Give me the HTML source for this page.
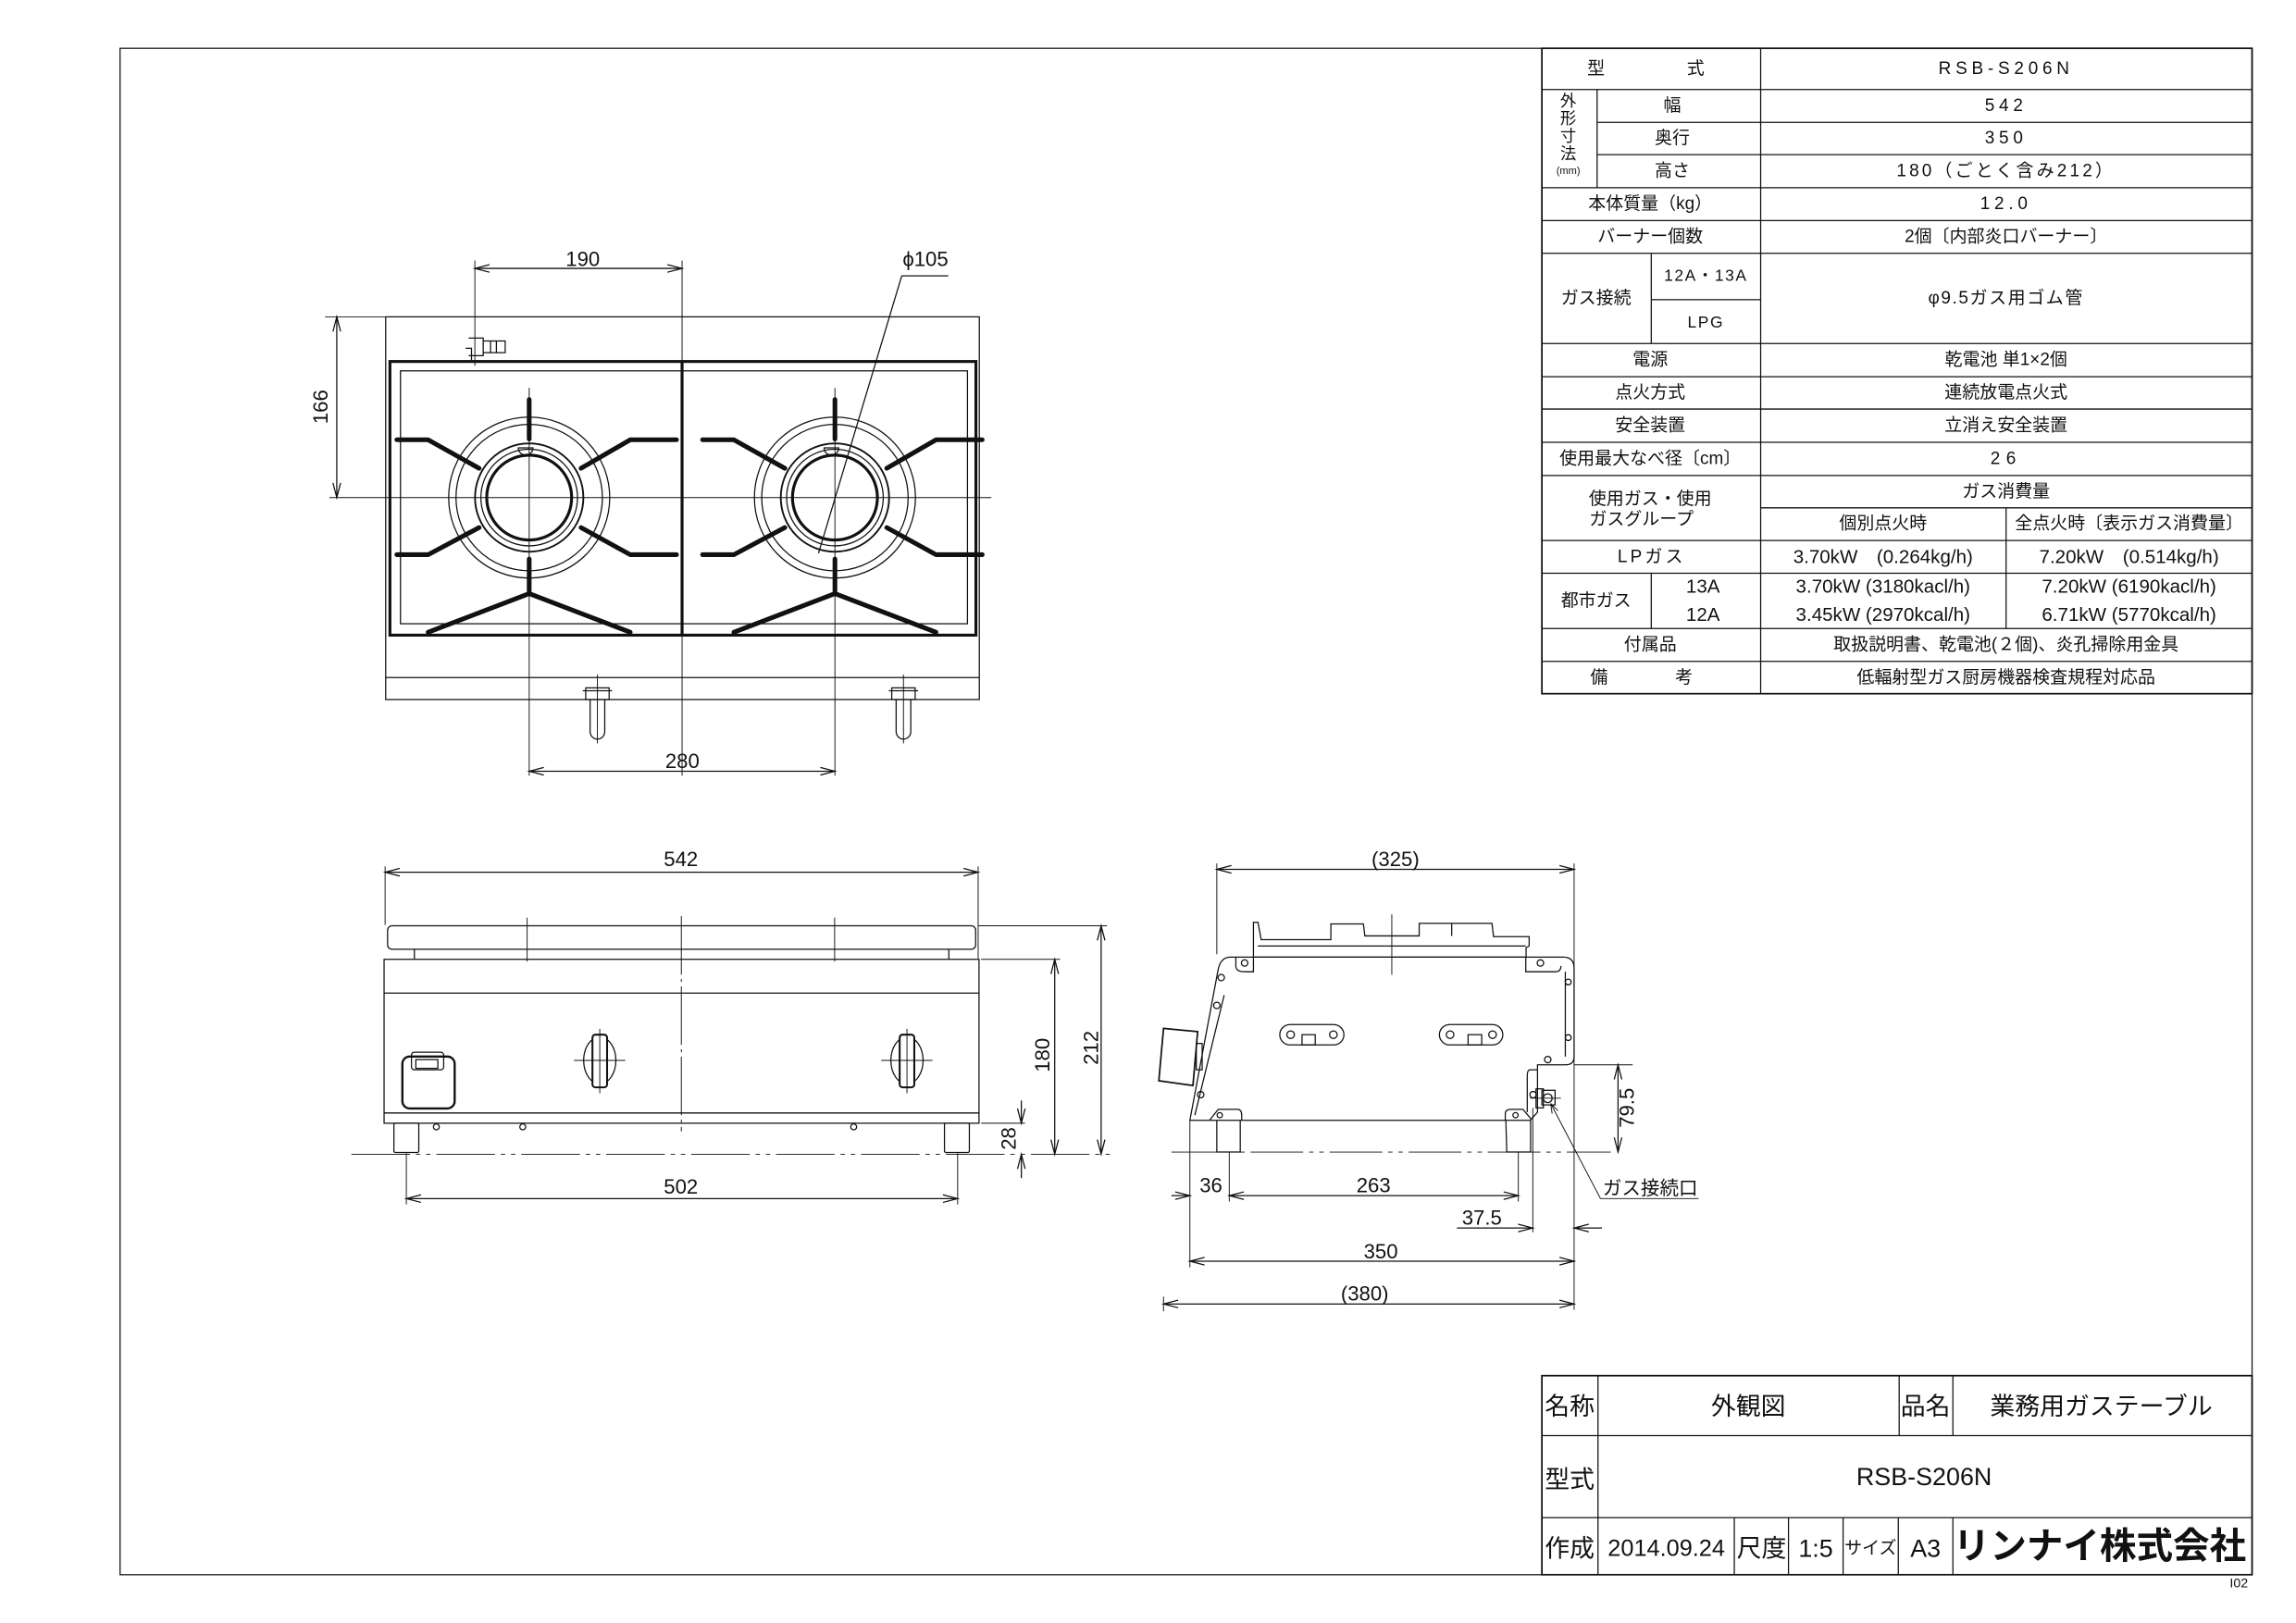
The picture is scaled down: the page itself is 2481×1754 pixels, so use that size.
<!DOCTYPE html>
<html><head><meta charset="utf-8"><style>
html,body{margin:0;padding:0;background:#fff;}
svg{display:block;}
text{font-family:"Liberation Sans","Noto Sans CJK JP",sans-serif;fill:#111;}
</style></head><body>
<svg width="2481" height="1754" viewBox="0 0 1568 1109" preserveAspectRatio="none" xmlns="http://www.w3.org/2000/svg">
<defs>
<marker id="a" markerUnits="userSpaceOnUse" markerWidth="20" markerHeight="10" refX="0" refY="0" viewBox="-12 -5 14 10" orient="auto-start-reverse">
<path d="M-10,-2.6 L0,0 L-10,2.6" fill="none" stroke="#111" stroke-width="0.8"/>
</marker>
</defs>
<rect x="0" y="0" width="1568" height="1109" fill="#fff"/>
<g fill="none" stroke="#111" stroke-width="0.8">
<rect x="82" y="33" width="1456" height="1043"/>

<!-- ===== SPEC TABLE ===== -->
<rect x="1053" y="33" width="485" height="441" stroke-width="1.1"/>
<line x1="1202.4" y1="33" x2="1202.4" y2="474"/>
<line x1="1053" y1="61.2" x2="1538" y2="61.2"/>
<line x1="1090.7" y1="83.6" x2="1538" y2="83.6"/>
<line x1="1090.7" y1="105.7" x2="1538" y2="105.7"/>
<line x1="1090.7" y1="61.2" x2="1090.7" y2="128.3"/>
<line x1="1053" y1="128.3" x2="1538" y2="128.3"/>
<line x1="1053" y1="150.7" x2="1538" y2="150.7"/>
<line x1="1053" y1="173.1" x2="1538" y2="173.1"/>
<line x1="1127.7" y1="173.1" x2="1127.7" y2="234.7"/>
<line x1="1127.7" y1="204.8" x2="1202.4" y2="204.8"/>
<line x1="1053" y1="234.7" x2="1538" y2="234.7"/>
<line x1="1053" y1="257.4" x2="1538" y2="257.4"/>
<line x1="1053" y1="279.5" x2="1538" y2="279.5"/>
<line x1="1053" y1="302.2" x2="1538" y2="302.2"/>
<line x1="1053" y1="324.9" x2="1538" y2="324.9"/>
<line x1="1202.4" y1="347" x2="1538" y2="347"/>
<line x1="1370" y1="347" x2="1370" y2="429.5"/>
<line x1="1053" y1="369.3" x2="1538" y2="369.3"/>
<line x1="1053" y1="391.7" x2="1538" y2="391.7"/>
<line x1="1127.7" y1="391.7" x2="1127.7" y2="429.5"/>
<line x1="1053" y1="429.5" x2="1538" y2="429.5"/>
<line x1="1053" y1="451.9" x2="1538" y2="451.9"/>

<!-- ===== TITLE BLOCK ===== -->
<rect x="1053" y="940" width="485" height="136" stroke-width="1.1"/>
<line x1="1053" y1="981" x2="1538" y2="981"/>
<line x1="1053" y1="1037" x2="1538" y2="1037"/>
<line x1="1091.3" y1="940" x2="1091.3" y2="1076"/>
<line x1="1297" y1="940" x2="1297" y2="981"/>
<line x1="1333.7" y1="940" x2="1333.7" y2="981"/>
<line x1="1184.4" y1="1037" x2="1184.4" y2="1076"/>
<line x1="1221.4" y1="1037" x2="1221.4" y2="1076"/>
<line x1="1258.7" y1="1037" x2="1258.7" y2="1076"/>
<line x1="1296.4" y1="1037" x2="1296.4" y2="1076"/>
<line x1="1333.7" y1="1037" x2="1333.7" y2="1076"/>

<!-- ===== TOP VIEW ===== -->
<rect x="263.4" y="216.5" width="405.4" height="261.5"/>
<line x1="263.4" y1="463" x2="668.8" y2="463"/>
<rect x="266.3" y="247" width="400.2" height="187" stroke-width="2"/>
<rect x="273.5" y="253.4" width="387.2" height="172.8"/>
<line x1="465.8" y1="247" x2="465.8" y2="434" stroke-width="2"/>
<line x1="465.8" y1="178" x2="465.8" y2="530" stroke-width="0.6"/>
<line x1="324.3" y1="178" x2="324.3" y2="250" stroke-width="0.6"/>
<line x1="324.3" y1="183.4" x2="465.8" y2="183.4" marker-start="url(#a)" marker-end="url(#a)"/>
<line x1="225" y1="340" x2="677" y2="340" stroke-width="0.6"/>
<line x1="222" y1="216.5" x2="263" y2="216.5" stroke-width="0.6"/>
<line x1="230" y1="216.5" x2="230" y2="340" marker-start="url(#a)" marker-end="url(#a)"/>
<!-- gas fitting -->
<path d="M320,231 L330,231 L330,243 L320,243 M330,233 L345,233 L345,241 L330,241 M335,233 L335,241 M339,233 L339,241 M318,238 L322,238 L322,247"/>
<!-- burners -->
<g id="burner">
<circle cx="361.4" cy="340" r="55"/>
<circle cx="361.4" cy="340" r="50"/>
<circle cx="361.4" cy="340" r="37" stroke-width="1.2"/>
<circle cx="361.4" cy="340" r="33"/>
<circle cx="361.4" cy="340" r="29" stroke-width="2"/>
<line x1="361.4" y1="265" x2="361.4" y2="530" stroke-width="0.6"/>
<g stroke-width="3.2" stroke-linecap="round" stroke-linejoin="round">
<line x1="361.4" y1="273" x2="361.4" y2="300"/>
<line x1="361.4" y1="382" x2="361.4" y2="404"/>
<polyline points="292.4,432 361.4,405.6 430.4,432"/>
<polyline points="271,300.5 292.4,300.5 327.2,320"/>
<polyline points="271,379 292.4,379 327.2,360.5"/>
<polyline points="462,300.5 430.4,300.5 396.8,320"/>
<polyline points="462,379 430.4,379 396.8,360.5"/>
</g>
<path d="M354,306 a5,5 0 0 0 10,0 z"/>
</g>
<use href="#burner" transform="translate(208.8,0)"/>
<!-- top view knobs -->
<g id="tk"><path d="M400,470 L416,470 L416,478 L400,478 Z M403,478 L403,500 a5,5 0 0 0 10,0 L413,478 M398,472 L418,472"/>
<line x1="408" y1="461" x2="408" y2="508" stroke-width="0.6"/></g>
<use href="#tk" transform="translate(209,0)"/>
<!-- phi105 leader -->
<line x1="647.6" y1="188.5" x2="615.8" y2="188.5"/>
<line x1="615.8" y1="188.5" x2="559" y2="378"/>
<!-- 280 -->
<line x1="361.4" y1="527" x2="570.2" y2="527" marker-start="url(#a)" marker-end="url(#a)"/>

<!-- ===== FRONT VIEW ===== -->
<line x1="263" y1="592" x2="263" y2="632" stroke-width="0.6"/>
<line x1="668" y1="592" x2="668" y2="655" stroke-width="0.6"/>
<line x1="263" y1="596" x2="668" y2="596" marker-start="url(#a)" marker-end="url(#a)"/>
<rect x="264.7" y="632.6" width="401.6" height="16" rx="3"/>
<line x1="283" y1="648.6" x2="283" y2="655.5"/>
<line x1="648" y1="648.6" x2="648" y2="655.5"/>
<rect x="262.3" y="655.5" width="406.3" height="112"/>
<line x1="262.3" y1="678.6" x2="668.6" y2="678.6"/>
<line x1="262.3" y1="760.5" x2="668.6" y2="760.5"/>
<line x1="465.3" y1="626" x2="465.3" y2="773" stroke-width="0.6" stroke-dasharray="40,3,2,3"/>
<line x1="360" y1="627" x2="360" y2="657" stroke-width="0.6"/>
<line x1="570" y1="627" x2="570" y2="657" stroke-width="0.6"/>
<g id="fk">
<ellipse cx="409.6" cy="724.6" rx="11" ry="16"/>
<rect x="404.6" y="707" width="10" height="36" rx="2" stroke-width="1.3" fill="#fff"/>
<line x1="392" y1="724.6" x2="427" y2="724.6" stroke-width="0.6"/>
<line x1="409.6" y1="703" x2="409.6" y2="747" stroke-width="0.6"/>
</g>
<use href="#fk" transform="translate(209.8,0)"/>
<rect x="274.8" y="721.9" width="35.7" height="35.5" rx="5" stroke-width="1.5"/>
<rect x="281" y="719" width="22" height="12" rx="2"/>
<rect x="284" y="724" width="15" height="6"/>
<rect x="269" y="767.5" width="17" height="20" rx="1"/>
<rect x="645" y="767.5" width="17" height="20" rx="1"/>
<circle cx="298" cy="770" r="2"/><circle cx="357" cy="770" r="2"/><circle cx="583" cy="770" r="2"/>
<line x1="240" y1="788.7" x2="760" y2="788.7" stroke-width="0.6" stroke-dasharray="40,4,3,4,3,4"/>
<line x1="277.5" y1="788" x2="277.5" y2="823" stroke-width="0.6"/>
<line x1="654" y1="788" x2="654" y2="823" stroke-width="0.6"/>
<line x1="277.5" y1="819" x2="654" y2="819" marker-start="url(#a)" marker-end="url(#a)"/>
<line x1="668" y1="632.6" x2="756" y2="632.6" stroke-width="0.6"/>
<line x1="670" y1="655.5" x2="724" y2="655.5" stroke-width="0.6"/>
<line x1="670" y1="767.5" x2="700" y2="767.5" stroke-width="0.6"/>
<line x1="720.3" y1="655.5" x2="720.3" y2="788.7" marker-start="url(#a)" marker-end="url(#a)"/>
<line x1="752" y1="632.6" x2="752" y2="788.7" marker-start="url(#a)" marker-end="url(#a)"/>
<line x1="697.5" y1="752" x2="697.5" y2="767.5" marker-end="url(#a)"/>
<line x1="697.5" y1="805" x2="697.5" y2="788.7" marker-end="url(#a)"/>

<!-- ===== SIDE VIEW ===== -->
<line x1="831" y1="590" x2="831" y2="652" stroke-width="0.6"/>
<line x1="1075" y1="590" x2="1075" y2="895" stroke-width="0.6"/>
<line x1="831" y1="594" x2="1075" y2="594" marker-start="url(#a)" marker-end="url(#a)"/>
<polygon points="856,654 856,630.2 859.1,630.2 861.3,642.1 908.9,642.1 908.9,631.3 931.1,631.3 932.1,639.5 969.2,639.5 969.2,630.9 1018.9,630.9 1020,640 1044.3,640 1044.3,646.4 1042.2,647.5 1042.2,654"/>
<line x1="859" y1="646.4" x2="1042" y2="646.4"/>
<line x1="991.4" y1="631" x2="991.4" y2="639.5"/>
<line x1="950.5" y1="624.8" x2="950.5" y2="666" stroke-width="0.6"/>
<path d="M840,654 L1067.6,654 Q1075,654 1075,661.6 L1075,722 Q1075,727.6 1069,727.6 L1050,727.6 L1050,760 L1045,765.5 L812.6,765.5 L832,662 Q834,654 840,654 Z"/>
<path d="M1069,664 L1069,722" />
<path d="M816,762 L836,680 M844,654 L844,660 Q844,664 850,664 L856,664 L856,654 M1042,654 L1042,664 L1062,664 Q1066,664 1066,660"/>
<path d="M1050,731 L1045,731 Q1043,731 1043,735 L1043,760"/>
<circle cx="850" cy="658" r="2.2"/><circle cx="1052" cy="658" r="2.2"/>
<circle cx="1071" cy="671" r="2"/><circle cx="1071" cy="709" r="2"/>
<circle cx="834" cy="668" r="2.2"/><circle cx="831" cy="687" r="2.2"/><circle cx="820" cy="748" r="2.2"/>
<circle cx="1057" cy="724" r="2.2"/><circle cx="1047" cy="748" r="2.2"/>
<rect x="874" y="700.1" width="43.8" height="13.9" rx="7"/>
<circle cx="881.4" cy="707" r="2.6"/><circle cx="910.6" cy="707" r="2.6"/>
<rect x="889.2" y="707" width="9" height="7"/>
<rect x="983" y="700.1" width="43.3" height="13.9" rx="7"/>
<circle cx="990.3" cy="707" r="2.6"/><circle cx="1019.3" cy="707" r="2.6"/>
<rect x="1002.6" y="707" width="9.3" height="7"/>
<polygon points="794.6,702.7 817.9,704.9 814.7,741.7 791.4,738.5" stroke-width="1.1"/>
<rect x="817" y="713" width="4" height="18"/>
<path d="M831,765.5 L831,787.2 L847,787.2 L847,765.5 M826,765.5 L832,758 L845,758 Q848,758 848,762 L848,765.5"/>
<path d="M1028.4,765.5 L1029,787.2 L1045.3,787.2 L1045.3,765.5 M1028,765.5 L1028,761 Q1028,758 1032,758 L1040,758 L1046,765"/>
<circle cx="833" cy="762" r="1.8"/><circle cx="1035" cy="762" r="1.8"/>
<rect x="1053" y="745" width="9" height="10"/>
<circle cx="1057" cy="750.4" r="3"/>
<rect x="1049" y="744" width="5" height="13"/>
<line x1="1045" y1="750.4" x2="1066" y2="750.4" stroke-width="0.6"/>
<line x1="800" y1="787.2" x2="1100" y2="787.2" stroke-width="0.6" stroke-dasharray="36,4,3,4,3,4"/>
<line x1="812.6" y1="766" x2="812.6" y2="866" stroke-width="0.6"/>
<line x1="839.5" y1="787" x2="839.5" y2="821" stroke-width="0.6"/>
<line x1="1036.9" y1="787" x2="1036.9" y2="821" stroke-width="0.6"/>
<line x1="1046.8" y1="757" x2="1046.8" y2="842" stroke-width="0.6"/>
<line x1="794.6" y1="886" x2="794.6" y2="896" stroke-width="0.6"/>
<line x1="800" y1="817" x2="812.6" y2="817" marker-end="url(#a)"/>
<line x1="839.5" y1="817" x2="1036.9" y2="817" marker-start="url(#a)" marker-end="url(#a)"/>
<line x1="995" y1="839.1" x2="1046.8" y2="839.1" marker-end="url(#a)"/>
<line x1="1094" y1="839.1" x2="1075" y2="839.1" marker-end="url(#a)"/>
<line x1="812.6" y1="861.8" x2="1075" y2="861.8" marker-start="url(#a)" marker-end="url(#a)"/>
<line x1="794.6" y1="891" x2="1075" y2="891" marker-start="url(#a)" marker-end="url(#a)"/>
<line x1="1075" y1="727.6" x2="1115" y2="727.6" stroke-width="0.6"/>
<line x1="1105" y1="727.6" x2="1105" y2="787.2" marker-start="url(#a)" marker-end="url(#a)"/>
<polyline points="1160,819 1093,819 1059,754" stroke-width="0.6"/>
<path d="M1059,754 l1,7 M1059,754 l5,5" stroke-width="0.6"/>
</g>

<!-- ===== TEXT ===== -->
<g font-size="14" text-anchor="middle" dominant-baseline="central">
<text x="398" y="177">190</text>
<text x="632" y="177">ϕ105</text>
<text x="466" y="520">280</text>
<text transform="translate(219,278) rotate(-90)">166</text>
<text x="465" y="587">542</text>
<text x="465" y="811">502</text>
<text transform="translate(712,721) rotate(-90)">180</text>
<text transform="translate(745,716) rotate(-90)">212</text>
<text transform="translate(689,778) rotate(-90)">28</text>
<text x="953" y="587">(325)</text>
<text x="827" y="810">36</text>
<text x="938" y="810">263</text>
<text x="1012" y="832">37.5</text>
<text x="943" y="855">350</text>
<text x="932" y="884">(380)</text>
<text transform="translate(1111,757) rotate(-90)">79.5</text>
<text x="1127" y="812" font-size="13">ガス接続口</text>
</g>

<g font-size="12" text-anchor="middle" dominant-baseline="central">
<text x="1090" y="47">型</text><text x="1158" y="47">式</text>
<text x="1370" y="47" letter-spacing="3">RSB-S206N</text>
<text x="1071" y="69" font-size="11">外</text>
<text x="1071" y="81" font-size="11">形</text>
<text x="1071" y="93" font-size="11">寸</text>
<text x="1071" y="105" font-size="11">法</text>
<text x="1071" y="117" font-size="7">(mm)</text>
<text x="1142" y="72.5">幅</text><text x="1370" y="72.5" letter-spacing="3">542</text>
<text x="1142" y="94.6">奥行</text><text x="1370" y="94.6" letter-spacing="3">350</text>
<text x="1142" y="117">高さ</text><text x="1370" y="117" letter-spacing="2">180（ごとく含み212）</text>
<text x="1127" y="139.5">本体質量（kg）</text><text x="1370" y="139.5" letter-spacing="3">12.0</text>
<text x="1127" y="162">バーナー個数</text><text x="1370" y="162">2個〔内部炎口バーナー〕</text>
<text x="1090" y="204">ガス接続</text>
<text x="1165" y="188" font-size="11" letter-spacing="1">12A・13A</text>
<text x="1165" y="220" font-size="11" letter-spacing="1">LPG</text>
<text x="1370" y="204" letter-spacing="1">φ9.5ガス用ゴム管</text>
<text x="1127" y="246">電源</text><text x="1370" y="246">乾電池 単1×2個</text>
<text x="1127" y="268.5">点火方式</text><text x="1370" y="268.5">連続放電点火式</text>
<text x="1127" y="291">安全装置</text><text x="1370" y="291">立消え安全装置</text>
<text x="1127" y="313.5">使用最大なべ径〔cm〕</text><text x="1370" y="313.5" letter-spacing="4">26</text>
<text x="1127" y="341">使用ガス・使用</text>
<text x="1121" y="355">ガスグループ</text>
<text x="1370" y="336">ガス消費量</text>
<text x="1286" y="358">個別点火時</text>
<text x="1454" y="358">全点火時〔表示ガス消費量〕</text>
<text x="1128" y="380.5" letter-spacing="2">LPガス</text>
<text x="1286" y="380.5" font-size="13">3.70kW　(0.264kg/h)</text>
<text x="1454" y="380.5" font-size="13">7.20kW　(0.514kg/h)</text>
<text x="1090" y="410.6">都市ガス</text>
<text x="1163" y="401" font-size="13">13A</text>
<text x="1163" y="420" font-size="13">12A</text>
<text x="1286" y="401" font-size="13">3.70kW (3180kacl/h)</text>
<text x="1286" y="420" font-size="13">3.45kW (2970kcal/h)</text>
<text x="1454" y="401" font-size="13">7.20kW (6190kacl/h)</text>
<text x="1454" y="420" font-size="13">6.71kW (5770kcal/h)</text>
<text x="1127" y="440.7">付属品</text><text x="1370" y="440.7">取扱説明書、乾電池(２個)、炎孔掃除用金具</text>
<text x="1092" y="463">備</text><text x="1150" y="463">考</text>
<text x="1370" y="463">低輻射型ガス厨房機器検査規程対応品</text>
</g>

<g font-size="17" text-anchor="middle" dominant-baseline="central">
<text x="1072" y="961">名称</text>
<text x="1194" y="961">外観図</text>
<text x="1315" y="961">品名</text>
<text x="1435" y="961">業務用ガステーブル</text>
<text x="1072" y="1011">型式</text>
<text x="1314" y="1009">RSB-S206N</text>
<text x="1072" y="1058">作成</text>
<text x="1138" y="1058" font-size="16">2014.09.24</text>
<text x="1203" y="1058">尺度</text>
<text x="1240" y="1058">1:5</text>
<text x="1277.5" y="1058" font-size="12">サイズ</text>
<text x="1315" y="1058">A3</text>
<text x="1434" y="1057" font-size="25" font-weight="bold">リンナイ株式会社</text>
<text x="1529" y="1082" font-size="9">I02</text>
</g>
</svg>
</body></html>
